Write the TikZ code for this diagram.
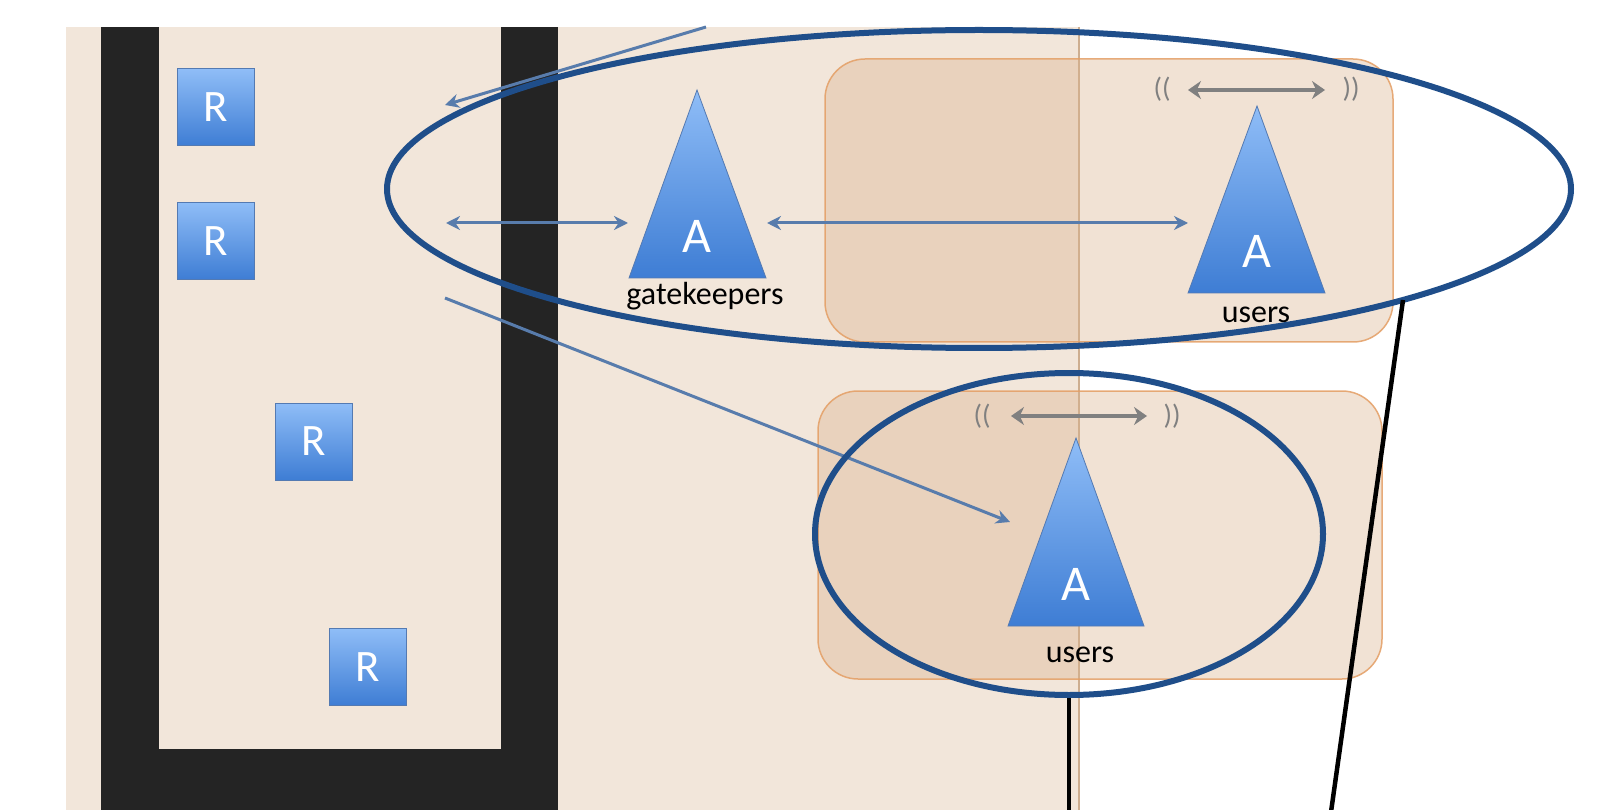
\documentclass[tikz,border=0pt]{standalone}
\usepackage{fontspec}
\setmainfont{Carlito}
\usetikzlibrary{shapes.geometric,arrows.meta,calc}
\definecolor{bgbeige}{RGB}{242,230,218}
\definecolor{barblack}{RGB}{36,36,36}
\definecolor{orfill}{RGB}{218,178,140}
\definecolor{ordraw}{RGB}{228,158,100}
\definecolor{blueTop}{RGB}{143,189,247}
\definecolor{blueBot}{RGB}{62,125,212}
\definecolor{blueEdge}{RGB}{84,122,178}
\definecolor{ellblue}{RGB}{31,78,138}
\definecolor{arrblue}{RGB}{88,124,172}
\definecolor{arrgray}{RGB}{128,128,128}
\definecolor{edgeline}{RGB}{205,174,144}
\begin{document}
\begin{tikzpicture}[x=1pt,y=-1pt,
  orbox/.style={draw=ordraw, line width=1.5pt, fill=orfill, fill opacity=0.37, draw opacity=0.85, rounded corners=40pt},
  rbox/.style={rectangle, draw=blueEdge, line width=1pt, top color=blueTop, bottom color=blueBot, minimum width=77pt, minimum height=77pt, inner sep=0pt, text=white, font=\fontsize{45}{45}\selectfont},
  tri/.style={draw=blueEdge, line width=0.8pt, top color=blueTop, bottom color=blueBot},
  alabel/.style={anchor=base, inner sep=0pt, text=white, font=\fontsize{50}{50}\selectfont},
  lab/.style={anchor=base, inner sep=0pt, text=black, font=\fontsize{32}{32}\selectfont},
  paren/.style={inner sep=0pt, text=arrgray, font=\fontsize{28}{28}\selectfont},
  grayarr/.style={arrgray, line width=4pt, {Stealth[length=13pt,width=18pt]}-{Stealth[length=13pt,width=18pt]}},
  bluearr/.style={arrblue, line width=3pt},
  bluetip/.style={-{Stealth[length=14pt,width=14pt]}},
  bluetips/.style={{Stealth[length=14pt,width=14pt]}-{Stealth[length=14pt,width=14pt]}},
  ell/.style={ellipse, draw=ellblue, line width=6pt, inner sep=0pt},
  blackln/.style={black, line width=4.5pt}]
\useasboundingbox (0,0) rectangle (1604,810);
\fill[white] (0,0) rectangle (1604,810);
% background panel
\fill[bgbeige] (66,27) rectangle (1079,810);
\draw[edgeline, line width=1.5pt] (1079,27) -- (1079,810);
% U-shaped bar
\fill[barblack] (101,27) rectangle (558,810);
\fill[bgbeige] (159,27) rectangle (501,749);
% orange rounded boxes
\path[orbox] (825,59) rectangle (1393,342);
\path[orbox] (818,391) rectangle (1382,679);
% R boxes
\node[rbox] (r1) at (215.5,107.5) {R};
\node[rbox] (r2) at (215.5,241) {R};
\node[rbox] (r3) at (313.5,441.5) {R};
\node[rbox] (r4) at (368,667) {R};
% triangles
\shadedraw[tri] (697,90) -- (766,278) -- (629,278) -- cycle;
\shadedraw[tri] (1257,106) -- (1325,293) -- (1188,293) -- cycle;
\shadedraw[tri] (1076,438) -- (1144,626) -- (1008,626) -- cycle;
\node[alabel] (ag) at (697,253) {A};
\node[alabel] (au1) at (1257,268) {A};
\node[alabel] (au2) at (1076,600) {A};
\node[lab] (gk) at (705,305) {gatekeepers};
\node[lab] (us1) at (1256,323) {users};
\node[lab] (us2) at (1080,662) {users};
% radio arrows
\coordinate (ga1) at (1188,90);
\coordinate (ga2) at (1325,90);
\coordinate (gb1) at (1011,416);
\coordinate (gb2) at (1147,416);
\draw[grayarr] (ga1) -- (ga2);
\draw[grayarr] (gb1) -- (gb2);
\node[paren] (pa1) at (1162,89) {((};
\node[paren] (pa2) at (1351,89) {))};
\node[paren] (pb1) at (982,416) {((};
\node[paren] (pb2) at (1172,416) {))};
% blue arrows
\coordinate (b1s) at (706,27);
\coordinate (b1e) at (445,105);
\coordinate (b2s) at (446,223);
\coordinate (b2e) at (628,223);
\coordinate (b3s) at (767,223);
\coordinate (b3e) at (1188,223);
\coordinate (b4s) at (445,298);
\coordinate (b4e) at (1010,522);
\draw[bluearr, bluetip] (b1s) -- (b1e);
\draw[bluearr, bluetips] (b2s) -- (b2e);
\draw[bluearr, bluetips] (b3s) -- (b3e);
\draw[bluearr, bluetip] (b4s) -- (b4e);
% ellipses
\node[ell, minimum width=1184pt, minimum height=318pt] (bigE) at (979,189) {};
\node[ell, minimum width=508pt, minimum height=322pt] (smallE) at (1069,534) {};
% black connectors
\coordinate (bigEpt) at ($(bigE.center)+(424,111)$);
\coordinate (k1) at (1331,812);
\coordinate (k2) at (1069,812);
\draw[blackln] (bigEpt) -- (k1);
\draw[blackln] (smallE.south) -- (k2);
\end{tikzpicture}
\end{document}
